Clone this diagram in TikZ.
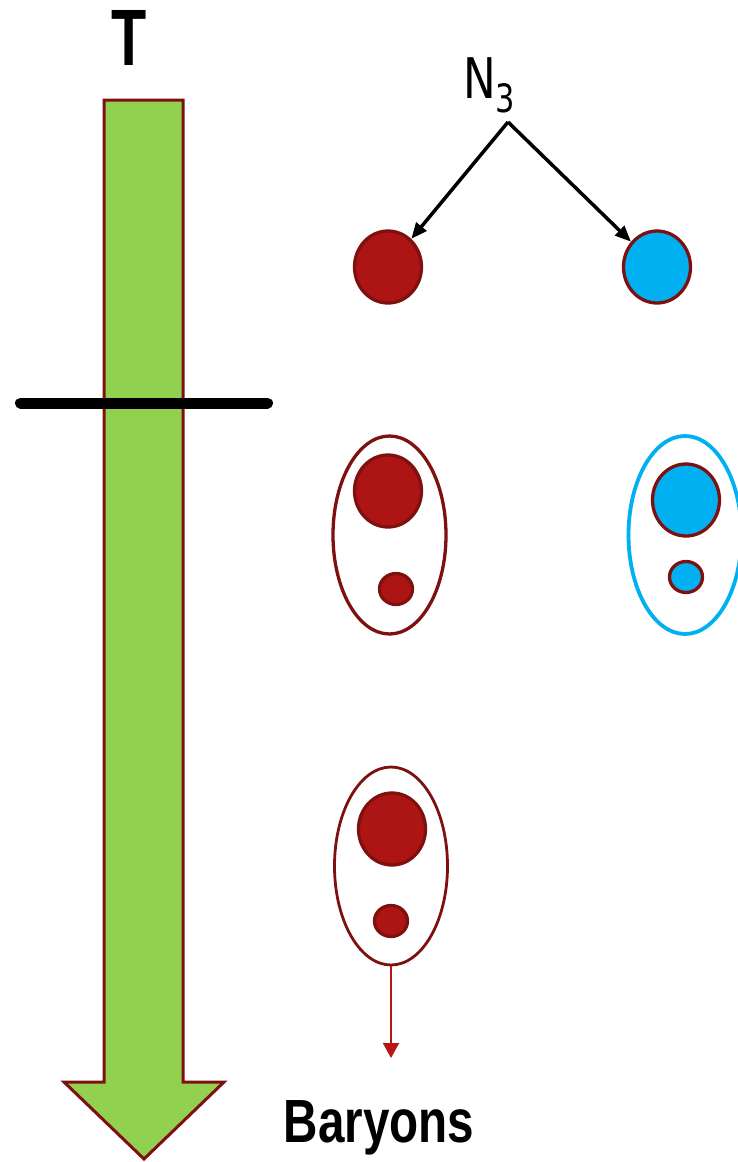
\documentclass[tikz,border=0pt]{standalone}
\usepackage{graphicx}
\usepackage{fontspec}
\setmainfont{Liberation Sans}
\newfontfamily\labelfont{DejaVu Sans}
\usetikzlibrary{arrows.meta,shapes.geometric}

\definecolor{edgered}{HTML}{7F1010}
\definecolor{fillred}{HTML}{AD1515}
\definecolor{arrowred}{HTML}{B81414}
\definecolor{skyblue}{HTML}{00B0F0}
\definecolor{leafgreen}{HTML}{92D050}

\tikzset{
  ball/.style={ellipse, draw=edgered, line width=3.3pt, inner sep=0pt},
  bigball/.style={ball, minimum width=67pt, minimum height=72pt},
  smallball/.style={ball, minimum width=33pt, minimum height=31pt},
  redball/.style={fill=fillred},
  blueball/.style={fill=skyblue},
  bag/.style={ellipse, line width=3.3pt, inner sep=0pt, minimum width=113pt, minimum height=198pt},
  pointer/.style={line width=3.5pt, -{Triangle[length=16pt,width=13pt]}},
}

\begin{document}
\begin{tikzpicture}[x=1pt,y=-1pt]
\useasboundingbox (0,0) rectangle (738,1162);

% temperature arrow
\draw[fill=leafgreen, draw=edgered, line width=3pt, line join=miter]
  (104,100) -- (183,100) -- (183,1082) -- (224,1082) -- (144,1159)
  -- (64,1082) -- (104,1082) -- cycle;
\node[anchor=base] (T) at (129,65) {\scalebox{0.72}[1]{\fontsize{80}{80}\selectfont\bfseries T}};

% threshold bar
\draw[line width=11pt, line cap=round] (20.5,403) coordinate (barL) -- (267.5,403) coordinate (barR);

% N3 decay
\node[anchor=base west, inner sep=0pt] (N3) at (463,98)
  {\scalebox{0.78}[1]{\labelfont\fontsize{56}{56}\selectfont N\raisebox{-14pt}{\fontsize{39}{39}\selectfont 3}}};
\coordinate (apex) at (508,122);
\node[bigball, redball] (r1) at (388,267) {};
\node[bigball, blueball] (b1) at (657,267) {};
\draw[pointer] (apex) -- (r1);
\draw[pointer] (apex) -- (b1);

% bound states
\node[bag, draw=edgered] (bagL) at (389.5,535) {};
\node[bigball, redball] (r2) at (388,491) {};
\node[smallball, redball] (r2s) at (396,589) {};

\node[bag, draw=skyblue, line width=3.8pt] (bagR) at (685,535) {};
\node[bigball, blueball] (b2) at (686,500) {};
\node[smallball, blueball] (b2s) at (686,577) {};

% surviving state
\node[bag, draw=edgered, line width=2.8pt] (bagB) at (391,866) {};
\node[bigball, redball] (r3) at (392,829) {};
\node[smallball, redball] (r3s) at (391,921) {};
\coordinate (out) at (391,1058);
\draw[arrowred, line width=2pt, -{Triangle[length=15pt,width=16pt]}] (bagB.south) -- (out);

\node[anchor=base] (bary) at (379,1142)
  {\scalebox{0.78}[1]{\fontsize{61}{61}\selectfont\bfseries Baryons}};
\end{tikzpicture}
\end{document}
